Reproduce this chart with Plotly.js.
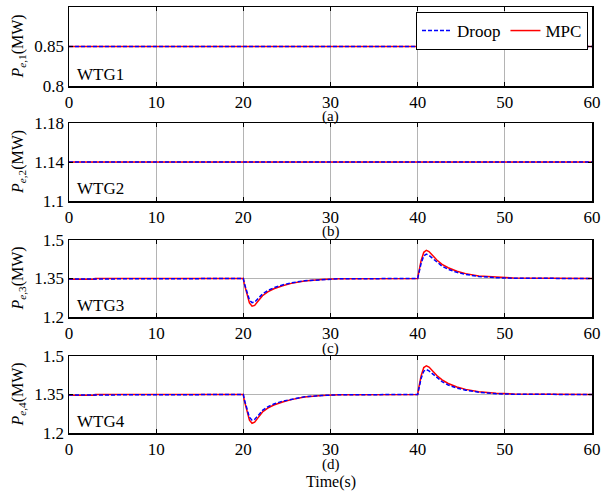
<!DOCTYPE html>
<html>
<head>
<meta charset="utf-8">
<script src="https://cdn.plot.ly/plotly-3.0.1.min.js"></script>
<style>html,body{margin:0;padding:0;background:#fff;}#chart{width:603px;height:491px;}</style>
</head>
<body>
<div id="chart"></div>
<script>
// ---- data ----
const timeFlat = [0, 60];
const wtg1Droop = [0.85, 0.85];
const wtg1MPC = [0.85, 0.85];
const wtg2Droop = [1.14, 1.14];
const wtg2MPC = [1.14, 1.14];

const timeDyn = [0, 3, 3.01, 20, 20.1, 20.4, 20.7, 21, 21.3, 21.7, 22.2, 22.8, 23.5, 24.5, 25.5, 27, 29, 31,
                 40, 40.1, 40.4, 40.7, 41, 41.3, 41.7, 42.2, 42.8, 43.5, 44.5, 45.5, 47, 49, 51, 60];
const wtg3MPC = [1.347, 1.347, 1.35, 1.35, 1.33, 1.29, 1.255, 1.242, 1.245, 1.262, 1.283, 1.298, 1.31, 1.322, 1.331, 1.34, 1.346, 1.349,
                 1.35, 1.37, 1.42, 1.452, 1.46, 1.455, 1.44, 1.422, 1.405, 1.392, 1.378, 1.369, 1.36, 1.355, 1.352, 1.35];
const wtg3Droop = [1.348, 1.348, 1.35, 1.35, 1.333, 1.297, 1.266, 1.256, 1.258, 1.272, 1.29, 1.303, 1.314, 1.325, 1.333, 1.341, 1.346, 1.349,
                 1.35, 1.366, 1.41, 1.438, 1.445, 1.44, 1.428, 1.413, 1.398, 1.386, 1.374, 1.366, 1.358, 1.353, 1.351, 1.35];
const wtg4MPC = [1.347, 1.347, 1.35, 1.35, 1.328, 1.286, 1.25, 1.238, 1.242, 1.26, 1.282, 1.297, 1.309, 1.321, 1.33, 1.34, 1.346, 1.349,
                 1.35, 1.372, 1.423, 1.455, 1.462, 1.457, 1.442, 1.424, 1.407, 1.393, 1.379, 1.37, 1.361, 1.355, 1.352, 1.35];
const wtg4Droop = [1.348, 1.348, 1.35, 1.35, 1.332, 1.294, 1.261, 1.25, 1.253, 1.268, 1.288, 1.302, 1.313, 1.324, 1.332, 1.341, 1.346, 1.349,
                 1.35, 1.368, 1.413, 1.441, 1.447, 1.442, 1.43, 1.415, 1.4, 1.387, 1.375, 1.367, 1.359, 1.353, 1.351, 1.35];

const xTicks = [0, 10, 20, 30, 40, 50, 60];
const yTicks1 = [0.8, 0.85, 0.9];
const yTicks2 = [1.1, 1.14, 1.18];
const yTicks34 = [1.2, 1.35, 1.5];
const yText1 = ['0.8', '0.85', '0.9'];
const yText2 = ['1.1', '1.14', '1.18'];
const yText34 = ['1.2', '1.35', '1.5'];
const panelLabels = ['(a)', '(b)', '(c)', '(d)'];
const wtgNames = ['WTG1', 'WTG2', 'WTG3', 'WTG4'];
const yTitles = ['<i>P</i><sub><i>e</i>,1</sub>(MW)', '<i>P</i><sub><i>e</i>,2</sub>(MW)',
                 '<i>P</i><sub><i>e</i>,3</sub>(MW)', '<i>P</i><sub><i>e</i>,4</sub>(MW)'];

// ---- layout helpers ----
const FONT = 'Liberation Serif';
const H = 426, BOT = 433;
function py(p) { return (BOT - p) / H; }
const panels = [[7, 86], [123, 201], [240, 317], [356, 433]];

const droopStyle = {color: '#0000ff', width: 1.5, dash: '4px,2px'};
const mpcStyle = {color: '#ff0000', width: 1.5};

const series = [
  [timeFlat, wtg1Droop, wtg1MPC],
  [timeFlat, wtg2Droop, wtg2MPC],
  [timeDyn, wtg3Droop, wtg3MPC],
  [timeDyn, wtg4Droop, wtg4MPC]
];
const traces = [];
series.forEach((s, i) => {
  const xa = i === 0 ? 'x' : 'x' + (i + 1);
  const ya = i === 0 ? 'y' : 'y' + (i + 1);
  traces.push({x: s[0], y: s[2], mode: 'lines', line: mpcStyle, name: 'MPC', xaxis: xa, yaxis: ya,
               showlegend: i === 0, legendrank: 2});
  traces.push({x: s[0], y: s[1], mode: 'lines', line: droopStyle, name: 'Droop', xaxis: xa, yaxis: ya,
               showlegend: i === 0, legendrank: 1});
});

const yRanges = [[0.8, 0.9], [1.1, 1.18], [1.2, 1.5], [1.2, 1.5]];
const yTv = [yTicks1, yTicks2, yTicks34, yTicks34];
const yTt = [yText1, yText2, yText34, yText34];

const layout = {
  width: 603, height: 491,
  margin: {l: 69, r: 11, t: 7, b: 58},
  paper_bgcolor: '#fff', plot_bgcolor: '#fff',
  font: {family: FONT, size: 17, color: '#000'},
  showlegend: true,
  legend: {
    x: (588 - 69) / 523, xanchor: 'right', y: py(12), yanchor: 'top',
    orientation: 'h', bgcolor: '#fff', bordercolor: '#000', borderwidth: 1,
    font: {family: FONT, size: 17, color: '#000'},
    traceorder: 'normal', itemwidth: 30, tracegroupgap: 0
  },
  annotations: []
};

panels.forEach((p, i) => {
  const sx = i === 0 ? 'xaxis' : 'xaxis' + (i + 1);
  const sy = i === 0 ? 'yaxis' : 'yaxis' + (i + 1);
  const yname = i === 0 ? 'y' : 'y' + (i + 1);
  const xname = i === 0 ? 'x' : 'x' + (i + 1);
  layout[sx] = {
    domain: [0, 1], anchor: yname, range: [0, 60],
    tickvals: xTicks, ticktext: xTicks.map(String),
    ticks: 'inside', ticklen: 4, tickcolor: '#000', tickwidth: 1,
    showline: true, linecolor: '#000', linewidth: 1.5, mirror: 'ticks',
    showgrid: true, gridcolor: '#b4b4b4', gridwidth: 1,
    zeroline: false, tickfont: {family: FONT, size: 17, color: '#000'}
  };
  layout[sy] = {
    domain: [py(p[1]), py(p[0])], anchor: xname, range: yRanges[i],
    tickvals: yTv[i], ticktext: yTt[i],
    ticks: 'inside', ticklen: 4, tickcolor: '#000', tickwidth: 1,
    showline: true, linecolor: '#000', linewidth: 1.5, mirror: 'ticks',
    showgrid: true, gridcolor: '#b4b4b4', gridwidth: 1,
    zeroline: false, tickfont: {family: FONT, size: 17, color: '#000'}
  };
  // y axis title
  layout.annotations.push({
    text: yTitles[i], xref: 'paper', yref: 'paper', x: (18 - 69) / 523, y: py((p[0] + p[1]) / 2),
    xanchor: 'center', yanchor: 'middle', textangle: -90, showarrow: false,
    font: {family: FONT, size: 16, color: '#000'}
  });
  // WTG label
  layout.annotations.push({
    text: wtgNames[i], xref: 'paper', yref: 'paper', x: (75 - 69) / 523, y: py(p[1] - 12),
    xanchor: 'left', yanchor: 'middle', showarrow: false,
    font: {family: FONT, size: 17, color: '#000'}
  });
  // panel label
  layout.annotations.push({
    text: panelLabels[i], xref: 'x', yref: 'paper', x: 30, y: py(p[1] + 31),
    xanchor: 'center', yanchor: 'middle', showarrow: false, borderpad: 0,
    font: {family: FONT, size: 15, color: '#000'}
  });
});
layout.annotations.push({
  text: 'Time(s)', xref: 'paper', yref: 'paper', x: 0.5, y: py(482),
  xanchor: 'center', yanchor: 'middle', showarrow: false, borderpad: 0,
  font: {family: FONT, size: 16, color: '#000'}
});

Plotly.newPlot('chart', traces, layout, {displayModeBar: false, staticPlot: true});
</script>
</body>
</html>
